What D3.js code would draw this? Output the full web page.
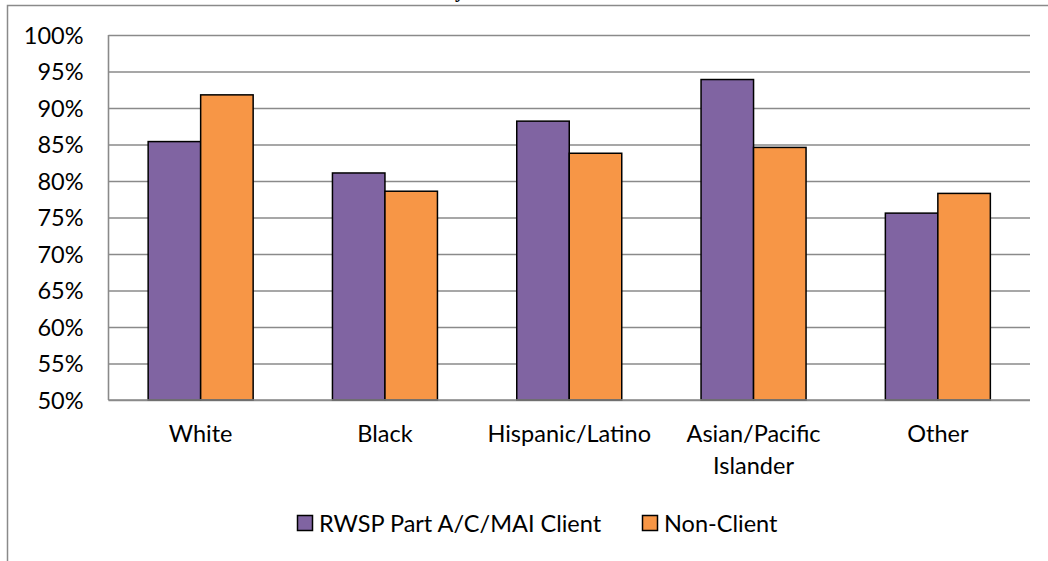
<!DOCTYPE html>
<html>
<head>
<meta charset="utf-8">
<script src="https://cdn.jsdelivr.net/npm/d3@7/dist/d3.min.js"></script>
<style>
  html, body { margin: 0; padding: 0; background: #fff; }
  svg { display: block; }
</style>
</head>
<body>
<svg id="chart" width="1048" height="561"></svg>
<script>
// Chart data
const categories = ["White", "Black", "Hispanic/Latino", "Asian/Pacific Islander", "Other"];
const categoryLines = [["White"], ["Black"], ["Hispanic/Latino"], ["Asian/Pacific", "Islander"], ["Other"]];
const seriesNames = ["RWSP Part A/C/MAI Client", "Non-Client"];
const clientValues = [85.4, 81.1, 88.2, 93.9, 75.6];
const nonClientValues = [91.8, 78.6, 83.8, 84.6, 78.3];
const yTicks = [50, 55, 60, 65, 70, 75, 80, 85, 90, 95, 100];
const seriesColors = ["#8064A2", "#F79646"];

const svg = d3.select("#chart");
const W = 1048, H = 561;
const plot = { left: 108.5, right: 1030, top: 35, bottom: 400 };
const font = "Lato, 'Open Sans', sans-serif";
const fontSize = 23.5;

// Outer frame
svg.append("rect")
  .attr("x", 7.5).attr("y", 5.5)
  .attr("width", W + 10).attr("height", H + 10)
  .attr("fill", "none").attr("stroke", "#8a8a8a").attr("stroke-width", 1.5);

// Title line sitting above the frame
svg.append("text")
  .attr("x", 465).attr("y", -3)
  .attr("text-anchor", "end")
  .attr("font-family", "'Liberation Serif', 'DejaVu Serif', serif")
  .attr("font-size", 20).attr("font-weight", "bold")
  .attr("fill", "#000")
  .text("Ethnicity");

const x0 = d3.scaleBand().domain(categories).range([plot.left, plot.right]).padding(0);
const groupW = 105;
const x1 = d3.scaleBand().domain(seriesNames).range([-groupW / 2, groupW / 2]).padding(0);
const y = d3.scaleLinear().domain([50, 100]).range([plot.bottom, plot.top]);

// Gridlines and tick labels
const yAxis = d3.axisLeft(y).tickValues(yTicks)
  .tickSize(-(plot.right - plot.left))
  .tickFormat(d => d + "%")
  .tickPadding(25);

const gy = svg.append("g").attr("transform", `translate(${plot.left},0)`).call(yAxis);
gy.select(".domain").remove();
gy.selectAll(".tick line").attr("stroke", "#8a8a8a").attr("stroke-width", 1.6);
gy.selectAll(".tick text")
  .attr("font-family", font).attr("font-size", fontSize).attr("fill", "#000")
  .attr("dy", "0.36em");

// Vertical axis line
svg.append("line")
  .attr("x1", plot.left).attr("x2", plot.left)
  .attr("y1", plot.top).attr("y2", plot.bottom)
  .attr("stroke", "#8a8a8a").attr("stroke-width", 1.6);

// Bars
const rows = categories.map((c, i) => ({
  cat: c,
  vals: [
    { s: seriesNames[0], v: clientValues[i], color: seriesColors[0] },
    { s: seriesNames[1], v: nonClientValues[i], color: seriesColors[1] }
  ]
}));

const groups = svg.append("g").selectAll("g").data(rows).join("g")
  .attr("transform", d => `translate(${x0(d.cat) + x0.bandwidth() / 2},0)`);

groups.selectAll("rect").data(d => d.vals).join("rect")
  .attr("x", d => x1(d.s))
  .attr("y", d => y(d.v))
  .attr("width", x1.bandwidth())
  .attr("height", d => y(50) - y(d.v))
  .attr("fill", d => d.color)
  .attr("stroke", "#000").attr("stroke-width", 1.5);

// Baseline drawn over bar bottoms
svg.append("line")
  .attr("x1", plot.left).attr("x2", plot.right)
  .attr("y1", plot.bottom).attr("y2", plot.bottom)
  .attr("stroke", "#8a8a8a").attr("stroke-width", 1.6);

// Category labels
const catLabels = svg.append("g").selectAll("text").data(categories).join("text")
  .attr("x", d => x0(d) + x0.bandwidth() / 2)
  .attr("y", 442)
  .attr("text-anchor", "middle")
  .attr("font-family", font).attr("font-size", fontSize).attr("fill", "#000");
catLabels.each(function(d, i) {
  const t = d3.select(this);
  categoryLines[i].forEach((line, j) => {
    t.append("tspan")
      .attr("x", x0(d) + x0.bandwidth() / 2)
      .attr("dy", j === 0 ? 0 : 32)
      .text(line);
  });
});

// Legend
const legendItems = [
  { name: seriesNames[0], color: seriesColors[0], x: 297 },
  { name: seriesNames[1], color: seriesColors[1], x: 642 }
];
const lg = svg.append("g").selectAll("g").data(legendItems).join("g")
  .attr("transform", d => `translate(${d.x},515)`);
lg.append("rect")
  .attr("x", 0.5).attr("y", 0.5).attr("width", 15).attr("height", 15)
  .attr("fill", d => d.color).attr("stroke", "#000").attr("stroke-width", 1.5);
lg.append("text")
  .attr("x", 22).attr("y", 16.5)
  .attr("font-family", font).attr("font-size", fontSize).attr("fill", "#000")
  .text(d => d.name);
</script>
</body>
</html>
